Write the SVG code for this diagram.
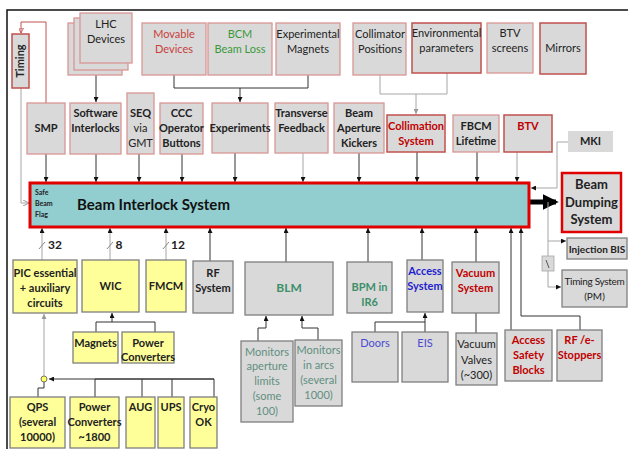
<svg xmlns="http://www.w3.org/2000/svg" width="628" height="449" viewBox="0 0 628 449">
<defs>
<marker id="a" viewBox="0 0 6 6" refX="6" refY="3" markerWidth="5" markerHeight="5" orient="auto"><path d="M0,0 L6,3 L0,6 z" fill="#111"/></marker>
<marker id="ag" viewBox="0 0 6 6" refX="6" refY="3" markerWidth="5" markerHeight="5" orient="auto"><path d="M0,0 L6,3 L0,6 z" fill="#999"/></marker>
<marker id="ar" viewBox="0 0 6 6" refX="6" refY="3" markerWidth="5" markerHeight="5" orient="auto"><path d="M0,0 L6,3 L0,6 z" fill="none" stroke="#c0504d" stroke-width="1"/></marker>
<marker id="ao" viewBox="0 0 6 6" refX="6" refY="3" markerWidth="6" markerHeight="6" orient="auto"><path d="M0,0 L6,3 L0,6" fill="none" stroke="#999" stroke-width="1"/></marker>
<marker id="big" viewBox="0 0 6 6" refX="5" refY="3" markerWidth="3.2" markerHeight="3.2" orient="auto"><path d="M0,0 L6,3 L0,6 z" fill="#000"/></marker>
</defs>
<style>
text{font-family:Lato,"Liberation Sans",sans-serif;font-size:11px;text-anchor:middle;fill:#222}
.b{font-weight:bold}
.r{fill:#c00000}
.lr{fill:#c8403c}
.g{fill:#3a9a3a}
.gb{fill:#3d8f6a}
.tm{fill:#5f8f80}
.bl{fill:#1f1fcf}
.bl2{fill:#4a4ad0}
.gr{fill:#d9d9d9;stroke:#d99694;stroke-width:1.3}
.gr2{fill:#d9d9d9;stroke:#c0504d;stroke-width:1.5}
.gd{fill:#d9d9d9;stroke:#7f7f7f;stroke-width:1.3}
.y{fill:#ffff99;stroke:#7f7f7f;stroke-width:1.3}
.c{fill:none;stroke:#333;stroke-width:1}
.cg{fill:none;stroke:#a6a6a6;stroke-width:1}
</style>
<rect width="628" height="449" fill="#fff"/>
<path d="M7,449 V10 H628" fill="none" stroke="#111" stroke-width="1.5"/>

<!-- connectors -->
<g id="connectors">
<path class="c" d="M96,75 V102" marker-end="url(#a)"/>
<path class="c" d="M174,75 V88 H308 V75 M240,88 V102" marker-end="url(#a)"/>
<path class="cg" d="M380,75 V94 H447 V73 M416,94 V114" marker-end="url(#ag)"/>
<path d="M46,103 V22 H21 V33" fill="none" stroke="#c0504d" stroke-width="1" marker-end="url(#ar)"/>
<path class="cg" d="M21,88 V203 H29" marker-end="url(#ao)"/>
<path class="c" d="M46,154 V182" marker-end="url(#a)"/>
<path class="c" d="M96,154 V182" marker-end="url(#a)"/>
<path class="c" d="M139,154 V182" marker-end="url(#a)"/>
<path class="c" d="M182,154 V182" marker-end="url(#a)"/>
<path class="c" d="M235,153 V182" marker-end="url(#a)"/>
<path class="cg" d="M303,153 V182" marker-end="url(#a)"/>
<path class="c" d="M359,153 V182" marker-end="url(#a)"/>
<path class="c" d="M417,152 V182" marker-end="url(#a)"/>
<path class="c" d="M477,152 V182" marker-end="url(#a)"/>
<path class="cg" d="M517,152 V182" marker-end="url(#a)"/>
<path class="cg" d="M568,142 H557 V188 H531" marker-end="url(#a)"/>
<path d="M530,202 H556" fill="none" stroke="#000" stroke-width="5" marker-end="url(#big)"/>
<path class="cg" d="M548,202 V287 H561" marker-end="url(#a)"/>
<path class="cg" d="M548,241 H566" marker-end="url(#a)"/>
<rect x="542" y="256" width="12" height="15" fill="#d9d9d9" stroke="#a6a6a6" stroke-width="0.8"/>
<path d="M546,260 L549,268" stroke="#333" stroke-width="0.8"/>
<path class="cg" d="M42,260 V228" marker-end="url(#a)"/>
<path class="cg" d="M110,260 V228" marker-end="url(#a)"/>
<path class="cg" d="M166,260 V228" marker-end="url(#a)"/>
<path class="c" d="M210,261 V228" marker-end="url(#a)"/>
<path class="c" d="M286,262 V228" marker-end="url(#a)"/>
<path class="c" d="M368,262 V228" marker-end="url(#a)"/>
<path class="c" d="M422,260 V228" marker-end="url(#a)"/>
<path class="c" d="M476,262 V228" marker-end="url(#a)"/>
<path class="c" d="M511,330 V228" marker-end="url(#a)"/>
<path class="c" d="M580,330 V316 H521 V228" marker-end="url(#a)"/>
<path d="M39,249 L45,242 M107,249 L113,242 M163,249 L169,242" stroke="#888" stroke-width="1"/>
<path class="c" d="M96,332 V322 H155 V332 M112,322 V313" marker-end="url(#a)"/>
<path class="cg" d="M44,376 V314" marker-end="url(#ag)"/>
<path class="c" d="M44,382 V388 H38 V397"/>
<path class="c" d="M95,397 V379 H214 V397 M142,397 V379 M172,397 V379 M214,379 H49" marker-end="url(#a)"/>
<circle cx="44" cy="379" r="3" fill="#ffff66" stroke="#555" stroke-width="0.8"/>
<path class="c" d="M258,341 V328 H266 V316" marker-end="url(#a)"/>
<path class="c" d="M318,340 V328 H302 V316" marker-end="url(#a)"/>
<path class="c" d="M375,332 V322 H425 M425,332 V313" marker-end="url(#a)"/>
<path class="c" d="M476,313 V333"/>
</g>

<!-- top row -->
<g id="lhc-devices">
<rect class="gr" x="68" y="23" width="54" height="52"/>
<rect class="gr" x="74" y="18" width="54" height="52"/>
<rect class="gr" x="80" y="13" width="52" height="50"/>
<text x="106" y="28">LHC</text><text x="106" y="43">Devices</text>
</g>
<g id="timing"><rect class="gr2" x="12" y="34" width="17" height="54"/><text class="b" transform="translate(24,61) rotate(-90)">Timing</text></g>
<g id="movable-devices"><rect class="gr" x="142" y="23" width="64" height="52"/><text class="lr" x="174" y="38">Movable</text><text class="lr" x="174" y="53">Devices</text></g>
<g id="bcm"><rect class="gr" x="208" y="23" width="64" height="52"/><text class="g" x="240" y="38">BCM</text><text class="g" x="240" y="53">Beam Loss</text></g>
<g id="exp-magnets"><rect class="gr" x="276" y="23" width="64" height="52"/><text x="308" y="38">Experimental</text><text x="308" y="53">Magnets</text></g>
<g id="coll-positions"><rect class="gr" x="353" y="23" width="53" height="52"/><text x="380" y="38">Collimator</text><text x="380" y="53">Positions</text></g>
<g id="env-params"><rect class="gr2" x="412" y="23" width="69" height="50"/><text x="446.5" y="37">Environmental</text><text x="446.5" y="52">parameters</text></g>
<g id="btv-screens"><rect class="gr" x="487" y="23" width="46" height="50"/><text x="510" y="37">BTV</text><text x="510" y="52">screens</text></g>
<g id="mirrors"><rect class="gr2" x="540" y="23" width="46" height="51"/><text x="563" y="52">Mirrors</text></g>

<!-- second row -->
<g id="smp"><rect class="gr" x="27" y="103" width="38" height="51"/><text class="b" x="46" y="132">SMP</text></g>
<g id="sw-interlocks"><rect class="gr" x="70" y="103" width="51" height="51"/><text class="b" x="95.5" y="117">Software</text><text class="b" x="95.5" y="132">Interlocks</text></g>
<g id="seq"><rect class="gr" x="127" y="93" width="27" height="61"/><text class="b" x="140.5" y="117">SEQ</text><text x="140.5" y="132">via</text><text x="140.5" y="147">GMT</text></g>
<g id="ccc"><rect class="gr" x="160" y="103" width="43" height="51"/><text class="b" x="181.5" y="117">CCC</text><text class="b" x="181.5" y="132">Operator</text><text class="b" x="181.5" y="147">Buttons</text></g>
<g id="experiments"><rect class="gr" x="212" y="103" width="56" height="50"/><text class="b" x="240" y="132">Experiments</text></g>
<g id="transverse-feedback"><rect class="gr" x="275" y="103" width="53" height="50"/><text class="b" x="301.5" y="117">Transverse</text><text class="b" x="301.5" y="132">Feedback</text></g>
<g id="bak"><rect class="gr" x="334" y="103" width="50" height="50"/><text class="b" x="359" y="117">Beam</text><text class="b" x="359" y="132">Aperture</text><text class="b" x="359" y="147">Kickers</text></g>
<g id="collimation"><rect class="gr2" x="387" y="115" width="58" height="37"/><text class="b r" x="416" y="130">Collimation</text><text class="b r" x="416" y="145">System</text></g>
<g id="fbcm"><rect class="gr" x="453" y="115" width="46" height="37"/><text class="b" x="476" y="130">FBCM</text><text class="b" x="476" y="145">Lifetime</text></g>
<g id="btv"><rect class="gr2" x="504" y="115" width="48" height="37"/><text class="b r" x="528" y="130">BTV</text></g>
<g id="mki"><rect x="568" y="131" width="45" height="21" fill="#d9d9d9"/><text class="b" x="590.5" y="145">MKI</text></g>

<!-- BIS -->
<g id="bis">
<rect x="30" y="183" width="499" height="44" fill="#92cdcf" stroke="#e00000" stroke-width="3"/>
<text class="b" x="35" y="195" style="font-size:7px;text-anchor:start">Safe</text>
<text class="b" x="35" y="206" style="font-size:7px;text-anchor:start">Beam</text>
<text class="b" x="35" y="217" style="font-size:7px;text-anchor:start">Flag</text>
<text class="b" x="77" y="210" style="font-size:15px;text-anchor:start;fill:#111">Beam Interlock System</text>
</g>
<g id="bds"><rect x="562" y="173" width="59" height="59" fill="#d9d9d9" stroke="#e00000" stroke-width="2.5"/><text class="b" x="591.5" y="189" style="font-size:13px">Beam</text><text class="b" x="591.5" y="207" style="font-size:13px">Dumping</text><text class="b" x="591.5" y="224" style="font-size:13px">System</text></g>
<g id="injection-bis"><rect class="gd" x="567" y="238" width="60" height="21"/><text class="b" x="597" y="252.5" style="font-size:10px">Injection BIS</text></g>
<g id="timing-system"><rect class="gd" x="562" y="270" width="65" height="37"/><text x="594.5" y="285" style="font-size:10px;letter-spacing:-0.3px">Timing System</text><text x="594.5" y="300" style="font-size:10px">(PM)</text></g>

<!-- labels on bus -->
<text class="b" x="55" y="249" style="font-size:12px">32</text>
<text class="b" x="119" y="249" style="font-size:12px">8</text>
<text class="b" x="178" y="249" style="font-size:12px">12</text>

<!-- bottom row 1 -->
<g id="pic"><rect class="y" x="13" y="260" width="64" height="53"/><text class="b" x="45" y="277">PIC essential</text><text class="b" x="45" y="292">+ auxiliary</text><text class="b" x="45" y="307">circuits</text></g>
<g id="wic"><rect class="y" x="82" y="260" width="57" height="52"/><text class="b" x="110.5" y="290">WIC</text></g>
<g id="fmcm"><rect class="y" x="146" y="260" width="40" height="52"/><text class="b" x="166" y="290">FMCM</text></g>
<g id="rf-system"><rect class="gd" x="193" y="261" width="40" height="52"/><text class="b" x="213" y="277">RF</text><text class="b" x="213" y="292">System</text></g>
<g id="blm"><rect class="gd" x="245" y="262" width="88" height="53"/><text class="b gb" x="289" y="292" style="font-size:12px">BLM</text></g>
<g id="bpm"><rect class="gd" x="347" y="262" width="45" height="51"/><text class="b gb" x="369.5" y="291">BPM in</text><text class="b gb" x="369.5" y="306">IR6</text></g>
<g id="access-system"><rect class="gd" x="407" y="260" width="36" height="52"/><text class="b bl" x="425" y="275">Access</text><text class="b bl" x="425" y="290">System</text></g>
<g id="vacuum-system"><rect class="gd" x="452" y="262" width="47" height="51"/><text class="b r" x="475.5" y="277">Vacuum</text><text class="b r" x="475.5" y="292">System</text></g>

<!-- bottom row 2 -->
<g id="magnets"><rect class="y" x="73" y="332" width="45" height="31"/><text class="b" x="95.5" y="347">Magnets</text></g>
<g id="power-converters"><rect class="y" x="122" y="332" width="52" height="31"/><text class="b" x="148" y="347">Power</text><text class="b" x="148" y="361">Converters</text></g>
<g id="monitors-aperture"><rect class="gd" x="241" y="341" width="52" height="81"/><text class="tm" x="267" y="356">Monitors</text><text class="tm" x="267" y="370">aperture</text><text class="tm" x="267" y="385">limits</text><text class="tm" x="267" y="400">(some</text><text class="tm" x="267" y="415">100)</text></g>
<g id="monitors-arcs"><rect class="gd" x="295" y="340" width="47" height="66"/><text class="tm" x="318.5" y="354">Monitors</text><text class="tm" x="318.5" y="369">in arcs</text><text class="tm" x="318.5" y="384">(several</text><text class="tm" x="318.5" y="399">1000)</text></g>
<g id="doors"><rect class="gd" x="352" y="332" width="46" height="50"/><text class="bl2" x="375" y="347">Doors</text></g>
<g id="eis"><rect class="gd" x="402" y="332" width="46" height="50"/><text class="bl2" x="425" y="347">EIS</text></g>
<g id="vacuum-valves"><rect class="gd" x="456" y="333" width="41" height="52"/><text x="476.5" y="348">Vacuum</text><text x="476.5" y="364">Valves</text><text x="476.5" y="379">(~300)</text></g>
<g id="access-safety"><rect class="gd" x="505" y="330" width="47" height="51"/><text class="b r" x="528.5" y="344">Access</text><text class="b r" x="528.5" y="359">Safety</text><text class="b r" x="528.5" y="374">Blocks</text></g>
<g id="rf-stoppers"><rect class="gd" x="557" y="330" width="45" height="51"/><text class="b r" x="579.5" y="344">RF /e-</text><text class="b r" x="579.5" y="359">Stoppers</text></g>

<!-- bottom row 3 -->
<g id="qps"><rect class="y" x="10" y="397" width="55" height="51"/><text class="b" x="37.5" y="411">QPS</text><text class="b" x="37.5" y="426">(several</text><text class="b" x="37.5" y="441">10000)</text></g>
<g id="pc-1800"><rect class="y" x="70" y="397" width="49" height="51"/><text class="b" x="94.5" y="411">Power</text><text class="b" x="94.5" y="426">Converters</text><text class="b" x="94.5" y="441">~1800</text></g>
<g id="aug"><rect class="y" x="126" y="397" width="29" height="51"/><text class="b" x="140.5" y="411">AUG</text></g>
<g id="ups"><rect class="y" x="158" y="397" width="26" height="51"/><text class="b" x="171" y="411">UPS</text></g>
<g id="cryo"><rect class="y" x="190" y="397" width="27" height="51"/><text class="b" x="203.5" y="411">Cryo</text><text class="b" x="203.5" y="426">OK</text></g>
</svg>
